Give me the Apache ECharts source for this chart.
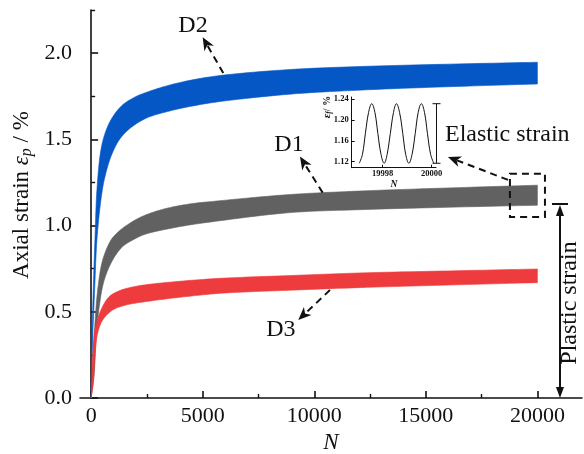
<!DOCTYPE html>
<html>
<head>
<meta charset="utf-8">
<script src="https://cdn.jsdelivr.net/npm/echarts@6/dist/echarts.min.js"></script>
<style>
  html, body { margin: 0; padding: 0; background: #fff; }
  #chart { width: 584px; height: 454px; }
</style>
</head>
<body>
<div id="chart"></div>
<script>
// Envelopes of the cyclic axial-strain band for each specimen, as [N, strain %]
const d2Upper = [[0,0],[36,0.34],[94,0.63],[170,0.92],[260,1.21],[439,1.44],[663,1.55],[964,1.63],[1412,1.70],[2008,1.748],[2487,1.773],[3384,1.810],[4430,1.842],[5773,1.870],[8920,1.905],[12000,1.922],[16000,1.936],[20000,1.947]];
const d2Lower = [[0,0],[67,0.34],[157,0.63],[260,0.92],[439,1.15],[587,1.265],[887,1.40],[1260,1.497],[1708,1.56],[2456,1.622],[3532,1.665],[4576,1.694],[5773,1.719],[8920,1.762],[12000,1.785],[16000,1.805],[20000,1.821]];

const d1Upper = [[0,0],[94,0.24],[170,0.433],[291,0.626],[515,0.80],[887,0.916],[1143,0.955],[1412,0.985],[2008,1.035],[2456,1.062],[3232,1.095],[4400,1.125],[5773,1.144],[8920,1.18],[12000,1.20],[16000,1.218],[20000,1.234]];
const d1Lower = [[0,0],[139,0.143],[215,0.336],[363,0.53],[587,0.684],[964,0.80],[1412,0.878],[2008,0.926],[2456,0.951],[3980,0.994],[5773,1.028],[8920,1.075],[12000,1.092],[16000,1.106],[20000,1.118]];

const d3Upper = [[0,0],[22,0.046],[67,0.24],[170,0.394],[439,0.51],[811,0.588],[1260,0.622],[1860,0.644],[2456,0.657],[3980,0.677],[5773,0.694],[8920,0.71],[12000,0.725],[16000,0.737],[20000,0.748]];
const d3Lower = [[0,0],[94,0.085],[170,0.24],[291,0.375],[515,0.452],[964,0.51],[1560,0.539],[2456,0.559],[3980,0.584],[5773,0.607],[8920,0.625],[12000,0.64],[16000,0.655],[20000,0.669]];

// Last cycles of D1 (inset)
const insetN = [19997.04,19997.17,19997.29,19997.42,19997.55,19997.68,19997.80,19997.93,19998.06,19998.18,19998.31,19998.44,19998.56,19998.69,19998.82,19998.94,19999.07,19999.20,19999.33,19999.45,19999.58,19999.71,19999.83,19999.96,20000.09];
const insetV = [1.117,1.134,1.174,1.214,1.231,1.214,1.174,1.134,1.117,1.134,1.174,1.214,1.231,1.214,1.174,1.134,1.117,1.134,1.174,1.214,1.231,1.214,1.174,1.134,1.117];

// Tick positions
const xMajorTicks = [0, 5000, 10000, 15000, 20000];
const xMinorTicks = [2500, 7500, 12500, 17500];
const yMajorTicks = [0, 0.5, 1.0, 1.5, 2.0];
const yMinorTicks = [0.25, 0.75, 1.25, 1.75, 2.25];
const insetXTicks = [19998, 20000];
const insetYTicks = [1.12, 1.16, 1.20, 1.24];

const bandNames = ['D2', 'D1', 'D3'];
const bands = [
  { upper: d2Upper, lower: d2Lower, color: '#0657C6' },
  { upper: d1Upper, lower: d1Lower, color: '#616161' },
  { upper: d3Upper, lower: d3Lower, color: '#EE3B3D' }
];

const SERIF = '"Liberation Serif", "DejaVu Serif", serif';
const chart = echarts.init(document.getElementById('chart'), null, { renderer: 'canvas' });

// Centripetal Catmull-Rom through screen points, so band edges are drawn as smooth curves
function smoothEdge(pts, steps) {
  if (pts.length < 3) return pts.slice();
  const out = [pts[0]];
  const knot = (t, a, b) => t + Math.max(Math.pow(Math.hypot(b[0] - a[0], b[1] - a[1]), 0.5), 1e-4);
  const mix = (a, b, ta, tb, t) => {
    const w = (t - ta) / (tb - ta);
    return [a[0] + (b[0] - a[0]) * w, a[1] + (b[1] - a[1]) * w];
  };
  for (let i = 0; i < pts.length - 1; i++) {
    const p1 = pts[i], p2 = pts[i + 1];
    const p0 = i > 0 ? pts[i - 1] : [2 * p1[0] - p2[0], 2 * p1[1] - p2[1]];
    const p3 = i + 2 < pts.length ? pts[i + 2] : [2 * p2[0] - p1[0], 2 * p2[1] - p1[1]];
    const t0 = 0, t1 = knot(t0, p0, p1), t2 = knot(t1, p1, p2), t3 = knot(t2, p2, p3);
    for (let s = 1; s <= steps; s++) {
      const t = t1 + (t2 - t1) * s / steps;
      const a1 = mix(p0, p1, t0, t1, t), a2 = mix(p1, p2, t1, t2, t), a3 = mix(p2, p3, t2, t3, t);
      const b1 = mix(a1, a2, t0, t2, t), b2 = mix(a2, a3, t1, t3, t);
      out.push(mix(b1, b2, t1, t2, t));
    }
  }
  return out;
}

const axisLineStyle = { color: '#111', width: 1.6 };
const plainNum = v => String(v);

const option = {
  animation: false,
  backgroundColor: '#fff',
  grid: [
    { left: 80, right: 2, top: 10, bottom: 56, outerBoundsMode: 'none', containLabel: false },
    { left: 351.7, top: 97, width: 84.3, height: 70.7, outerBoundsMode: 'none', containLabel: false }
  ],
  xAxis: [
    {
      type: 'value', gridIndex: 0, min: -500, max: 22000,
      axisLine: { show: true, lineStyle: axisLineStyle },
      axisTick: { show: true, inside: true, length: 7, customValues: xMajorTicks, lineStyle: { color: '#111', width: 1.6 } },
      axisLabel: { customValues: xMajorTicks, formatter: plainNum, fontSize: 22, fontFamily: SERIF, color: '#111', margin: 7 },
      splitLine: { show: false },
      name: 'N', nameLocation: 'middle', nameGap: 26,
      nameTextStyle: { fontSize: 23, fontStyle: 'italic', fontFamily: SERIF, color: '#111', verticalAlign: 'top' }
    },
    {
      type: 'value', gridIndex: 0, min: -500, max: 22000, position: 'bottom',
      axisLine: { show: false },
      axisTick: { show: true, inside: true, length: 4, customValues: xMinorTicks, lineStyle: { color: '#111', width: 1.4 } },
      axisLabel: { show: false },
      splitLine: { show: false }
    },
    {
      type: 'value', gridIndex: 1, min: 19996.73, max: 20000.18,
      axisLine: { show: true, lineStyle: { color: '#111', width: 1 } },
      axisTick: { show: true, inside: true, length: 3, customValues: insetXTicks, lineStyle: { color: '#111', width: 1 } },
      axisLabel: { customValues: insetXTicks, formatter: plainNum, fontSize: 8.5, fontWeight: 'bold', fontFamily: SERIF, color: '#111', margin: 2 },
      splitLine: { show: false },
      name: 'N', nameLocation: 'middle', nameGap: 9,
      nameTextStyle: { fontSize: 9.5, fontStyle: 'italic', fontWeight: 'bold', fontFamily: SERIF, color: '#111', verticalAlign: 'top' }
    }
  ],
  yAxis: [
    {
      type: 'value', gridIndex: 0, min: 0, max: 2.25,
      axisLine: { show: true, lineStyle: axisLineStyle },
      axisTick: { show: true, inside: true, length: 7, customValues: yMajorTicks, lineStyle: { color: '#111', width: 1.6 } },
      axisLabel: { customValues: yMajorTicks, fontSize: 22, fontFamily: SERIF, color: '#111', margin: 8,
        formatter: v => v.toFixed(1) },
      splitLine: { show: false }
    },
    {
      type: 'value', gridIndex: 0, min: 0, max: 2.25, position: 'left',
      axisLine: { show: false },
      axisTick: { show: true, inside: true, length: 4, customValues: yMinorTicks, lineStyle: { color: '#111', width: 1.4 } },
      axisLabel: { show: false },
      splitLine: { show: false }
    },
    {
      type: 'value', gridIndex: 1, min: 1.1085, max: 1.2438,
      axisLine: { show: true, lineStyle: { color: '#111', width: 1 } },
      axisTick: { show: true, inside: true, length: 3, customValues: insetYTicks, lineStyle: { color: '#111', width: 1 } },
      axisLabel: { customValues: insetYTicks, fontSize: 8.5, fontWeight: 'bold', fontFamily: SERIF, color: '#111', margin: 3,
        formatter: v => v.toFixed(2) },
      splitLine: { show: false }
    }
  ],
  series: [
    {
      type: 'custom',
      name: 'strain bands',
      xAxisIndex: 0, yAxisIndex: 0,
      data: bands.map((b, i) => [i, 0]),
      renderItem: function (params, api) {
        const b = bands[params.dataIndex];
        const up = smoothEdge(b.upper.map(p => api.coord(p)), 10);
        const lo = smoothEdge(b.lower.map(p => api.coord(p)), 10);
        return {
          type: 'polygon',
          shape: { points: up.concat(lo.reverse()) },
          style: { fill: b.color, stroke: b.color, lineWidth: 0.6 }
        };
      },
      z: 2
    },
    {
      type: 'line',
      name: 'D1 last cycles',
      xAxisIndex: 2, yAxisIndex: 2,
      data: insetN.map((n, i) => [n, insetV[i]]),
      smooth: 0.4,
      showSymbol: false,
      lineStyle: { color: '#111', width: 1 },
      z: 3
    }
  ]
};

chart.setOption(option);

// ---- annotations, placed in data coordinates ----
const toPx = p => chart.convertToPixel({ gridIndex: 0 }, p);
const toInset = p => chart.convertToPixel({ gridIndex: 1 }, p);

function arrowShapes(from, to, dashed, headLen, headW) {
  const dx = to[0] - from[0], dy = to[1] - from[1];
  const len = Math.hypot(dx, dy);
  const ux = dx / len, uy = dy / len;
  const px = -uy, py = ux;
  const back = [to[0] - ux * headLen, to[1] - uy * headLen];
  const notch = [to[0] - ux * headLen * 0.72, to[1] - uy * headLen * 0.72];
  const end = [to[0] - ux * headLen * 0.75, to[1] - uy * headLen * 0.75];
  return [
    {
      type: 'line', z: 10,
      shape: { x1: from[0], y1: from[1], x2: end[0], y2: end[1] },
      style: { stroke: '#111', lineWidth: 2, lineDash: dashed ? [7, 5] : null }
    },
    {
      type: 'polygon', z: 10,
      shape: { points: [to, [back[0] + px * headW / 2, back[1] + py * headW / 2], notch,
        [back[0] - px * headW / 2, back[1] - py * headW / 2]] },
      style: { fill: '#111' }
    }
  ];
}

function label(text, pos, opts) {
  return {
    type: 'text', z: 10, x: pos[0], y: pos[1],
    style: Object.assign({ text: text, fontSize: 24, fontFamily: SERIF, fill: '#111',
      align: 'center', verticalAlign: 'middle' }, opts || {})
  };
}

const bandLabels = [
  { pos: [4563, 2.158], from: [5921, 1.885], to: [4998, 2.092] },
  { pos: [8866, 1.467], from: [10376, 1.191], to: [9359, 1.40] },
  { pos: [8507, 0.394], from: [10704, 0.626], to: [9283, 0.452] }
];

const elements = [];

bandLabels.forEach((b, i) => {
  elements.push(label(bandNames[i], toPx(b.pos)));
  arrowShapes(toPx(b.from), toPx(b.to), true, 13, 11).forEach(e => elements.push(e));
});

// Dashed box around the last cycles of D1 and the pointer to the inset
const boxA = toPx([18770, 1.30]);
const boxB = toPx([20340, 1.05]);
elements.push({
  type: 'rect', z: 11,
  shape: { x: boxA[0], y: boxA[1], width: boxB[0] - boxA[0], height: boxB[1] - boxA[1] },
  style: { fill: null, stroke: '#111', lineWidth: 2, lineDash: [7, 5] }
});
arrowShapes(toPx([18682, 1.265]), toPx([15992, 1.398]), true, 13, 11).forEach(e => elements.push(e));

// Elastic strain range bracket inside the inset
const brTop = toInset([20000.2, 1.231]);
const brBot = toInset([20000.2, 1.117]);
elements.push({ type: 'line', z: 10, shape: { x1: brTop[0], y1: brTop[1], x2: brBot[0], y2: brBot[1] }, style: { stroke: '#111', lineWidth: 1 } });
elements.push({ type: 'line', z: 10, shape: { x1: brTop[0] - 4, y1: brTop[1], x2: brTop[0] + 4, y2: brTop[1] }, style: { stroke: '#111', lineWidth: 1 } });
elements.push({ type: 'line', z: 10, shape: { x1: brBot[0] - 4, y1: brBot[1], x2: brBot[0] + 4, y2: brBot[1] }, style: { stroke: '#111', lineWidth: 1 } });
elements.push(label('Elastic strain', toPx([15858, 1.525]), { align: 'left' }));

// Plastic strain: double arrow from 0 up to the lower edge of D1 at the last cycle
const plTop = toPx([21013, 1.125]);
const plBot = toPx([21013, 0]);
elements.push({ type: 'line', z: 10, shape: { x1: plTop[0] - 8, y1: plTop[1], x2: plTop[0] + 8, y2: plTop[1] }, style: { stroke: '#111', lineWidth: 2 } });
elements.push({ type: 'line', z: 10, shape: { x1: plTop[0], y1: plTop[1] + 8, x2: plBot[0], y2: plBot[1] - 8 }, style: { stroke: '#111', lineWidth: 2 } });
elements.push({ type: 'polygon', z: 10, shape: { points: [[plTop[0], plTop[1] + 1], [plTop[0] - 4, plTop[1] + 12], [plTop[0] + 4, plTop[1] + 12]] }, style: { fill: '#111' } });
elements.push({ type: 'polygon', z: 10, shape: { points: [[plBot[0], plBot[1]], [plBot[0] - 4, plBot[1] - 11], [plBot[0] + 4, plBot[1] - 11]] }, style: { fill: '#111' } });
const plText = toPx([21460, 0.551]);
elements.push(Object.assign(label('Plastic strain', plText), { rotation: Math.PI / 2 }));

// Axis titles with subscripted symbols
elements.push({
  type: 'text', z: 10, x: 22, y: 195, rotation: Math.PI / 2,
  style: {
    text: 'Axial strain {e|ε}{s|p}{t| / %}',
    fontSize: 23, fontFamily: SERIF, fill: '#111', align: 'center', verticalAlign: 'middle',
    rich: {
      e: { fontSize: 23, fontStyle: 'italic', fontFamily: SERIF, fill: '#111' },
      s: { fontSize: 16, fontStyle: 'italic', fontFamily: SERIF, fill: '#111', padding: [10, 0, 0, 0] },
      t: { fontSize: 23, fontFamily: SERIF, fill: '#111' }
    }
  }
});
elements.push({
  type: 'text', z: 10, x: 327.5, y: 107, rotation: Math.PI / 2,
  style: {
    text: '{e|ε}{s|f}{t|/ %}',
    fontSize: 10, fontFamily: SERIF, fontWeight: 'bold', fill: '#111', align: 'center', verticalAlign: 'middle',
    rich: {
      e: { fontSize: 11, fontStyle: 'italic', fontWeight: 'bold', fontFamily: SERIF, fill: '#111' },
      s: { fontSize: 7.5, fontStyle: 'italic', fontWeight: 'bold', fontFamily: SERIF, fill: '#111', padding: [4, 0, 0, 0] },
      t: { fontSize: 10, fontWeight: 'bold', fontFamily: SERIF, fill: '#111' }
    }
  }
});

chart.setOption({ graphic: { elements: elements } });
</script>
</body>
</html>
